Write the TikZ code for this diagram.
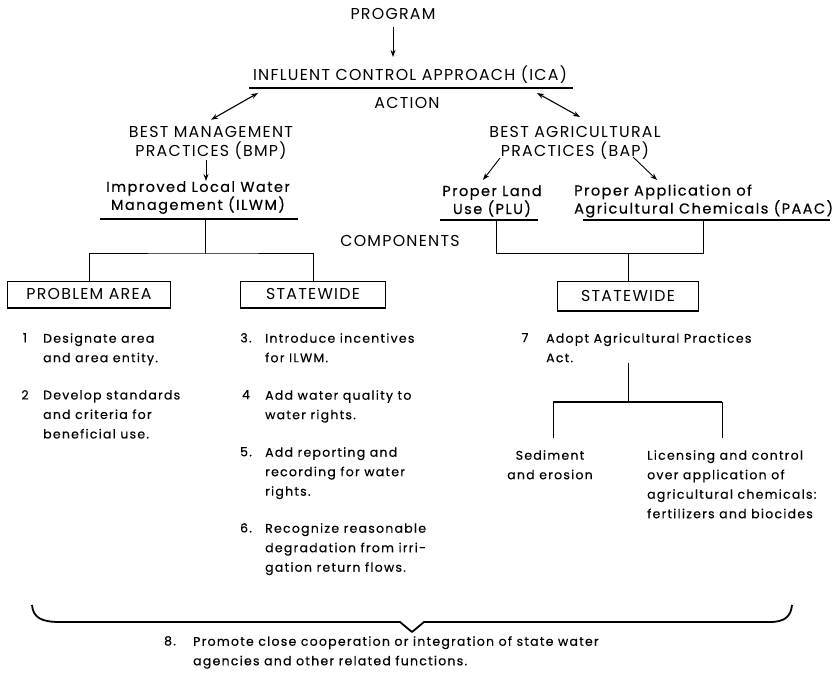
\documentclass[tikz,border=0pt]{standalone}
\usepackage{fontspec}
\setmainfont{Poppins}
\newfontfamily\capsf[LetterSpace=8]{Poppins}
\newfontfamily\bodyf[LetterSpace=10,FakeBold=0.4]{Poppins}
\usetikzlibrary{arrows.meta}
\begin{document}
\begin{tikzpicture}[x=1pt,y=-1pt,
  hdr/.style={inner sep=0pt, font=\capsf\fontsize{15.8}{19}\selectfont, align=center},
  midt/.style={inner sep=0pt, font=\bodyf\fontsize{14.5}{18}\selectfont, align=center},
  body/.style={inner sep=0pt, font=\bodyf\fontsize{12.5}{19.5}\selectfont, align=left, anchor=north west},
  num/.style={inner sep=0pt, font=\bodyf\fontsize{12.5}{19.5}\selectfont, anchor=north},
  uline/.style={line width=2.2pt},
  thin/.style={line width=0.9pt},
  arr/.style={-{Stealth[length=7pt,width=5pt]}, line width=0.9pt},
  darr/.style={{Stealth[length=7pt,width=5pt]}-{Stealth[length=7pt,width=5pt]}, line width=1.1pt},
  boxn/.style={draw, line width=1pt, inner sep=0pt, minimum height=26pt, font=\capsf\fontsize{15.8}{19}\selectfont},
  brace/.style={line width=1.8pt, line join=round}
]
\useasboundingbox (0,0) rectangle (837,673);

% top
\node[hdr] (prog) at (393,14) {PROGRAM};
\node[hdr] (ica) at (410,75) {INFLUENT CONTROL APPROACH (ICA)};
\draw[arr] ([yshift=-7pt]prog.south) -- ([yshift=9pt]prog.south |- ica.north);
\coordinate (icaL) at (249,88);
\coordinate (icaR) at (573,88);
\draw[uline] (icaL) -- (icaR);
\node[hdr] (act) at (407,103) {ACTION};

% left branch
\node[hdr] (bmp) at (211,142.5) {BEST MANAGEMENT\\PRACTICES (BMP)};
\coordinate (la) at (258,93);
\draw[darr] (la) -- ([yshift=6pt]bmp.north);
\node[midt] (ilwm) at (198,197.5) {Improved Local Water\\Management (ILWM)};
\coordinate (bmpB) at (206,160);
\draw[arr] (bmpB) -- (bmpB |- ilwm.north);
\coordinate (ilwmL) at (100,219);
\coordinate (ilwmR) at (298,219);
\draw[uline] (ilwmL) -- (ilwmR);
\coordinate (ilwmB) at (205,219);
\coordinate (jL) at (205,253);

% right branch
\node[hdr] (bap) at (575,142.5) {BEST AGRICULTURAL\\PRACTICES (BAP)};
\coordinate (ra) at (537,93);
\draw[darr] (ra) -- (580,117);
\node[midt] (plu) at (492,201) {Proper Land\\Use (PLU)};
\node[midt, align=left, anchor=west] (paac) at (574,201) {Proper Application of\\Agricultural Chemicals (PAAC)};
\coordinate (bapL) at (500,158);
\coordinate (bapR) at (633,157);
\draw[arr] (bapL) -- (483,180);
\draw[arr] (bapR) -- (657,180);
\coordinate (pluL) at (440,220);
\coordinate (pluR) at (538,220);
\draw[uline] (pluL) -- (pluR);
\coordinate (paacL) at (583,220);
\coordinate (paacR) at (830,220);
\draw[uline] (paacL) -- (paacR);
\coordinate (pluB) at (496,220);
\coordinate (paacB) at (703,220);
\coordinate (jR) at (628,253);

\node[hdr] (comp) at (400,241) {COMPONENTS};

% boxes
\node[boxn, minimum width=163pt] (pa) at (89,294) {PROBLEM AREA};
\node[boxn, minimum width=145pt] (swL) at (313,294) {STATEWIDE};
\node[boxn, minimum width=141pt, minimum height=29pt] (swR) at (628,296) {STATEWIDE};
\foreach \b in {pa,swL,swR}{\draw[line width=2pt] (\b.south west) -- (\b.south east);}

% trees
\draw[thin] (ilwmB) -- (jL);
\draw[thin] (pa.north) |- (jL) -| (swL.north);
\draw[thin] (pluB) |- (jR);
\draw[thin] (paacB) |- (jR);
\draw[thin] (jR) -- (swR.north);

% left items
\node[num] (n1) at (25,333) {1};
\node[body] (t1) at (43,333) {Designate area\\and area entity.};
\node[num] (n2) at (25,390) {2};
\node[body] (t2) at (43,390) {Develop standards\\and criteria for\\beneficial use.};

% middle items
\node[num] (n3) at (246,333) {3.};
\node[body] (t3) at (265,333) {Introduce incentives\\for ILWM.};
\node[num] (n4) at (246,390) {4};
\node[body] (t4) at (265,390) {Add water quality to\\water rights.};
\node[num] (n5) at (246,447) {5.};
\node[body] (t5) at (265,447) {Add reporting and\\recording for water\\rights.};
\node[num] (n6) at (246,523) {6.};
\node[body] (t6) at (265,523) {Recognize reasonable\\degradation from irri-\\gation return flows.};

% right items
\node[num] (n7) at (525,333) {7};
\node[body] (t7) at (546,333) {Adopt Agricultural Practices\\Act.};
\coordinate (t7b) at (628,363);
\coordinate (j7) at (628,402);
\coordinate (j7L) at (553,402);
\coordinate (j7R) at (722,402);
\draw[thin] (t7b) -- (j7);
\draw[uline] (j7L) -- (j7R);
\node[body, anchor=north, align=center] (sed) at (550,450) {Sediment\\and erosion};
\node[body] (lic) at (647,450) {Licensing and control\\over application of\\agricultural chemicals:\\fertilizers and biocides};
\draw[thin] (j7L) -- ([yshift=12pt]j7L |- sed.north);
\draw[thin] (j7R) -- ([yshift=12pt]j7R |- lic.north);

% brace
\coordinate (brL) at (32,605);
\coordinate (brR) at (792,605);
\coordinate (brT) at (412,632);
\draw[brace] (brL) .. controls (33,618) and (42,622) .. (60,622) -- (400,622) -- (brT) -- (424,622) -- (770,622) .. controls (785,622) and (791,616) .. (brR);
\node[num] (n8) at (170,636) {8.};
\node[body] (t8) at (193,636) {Promote close cooperation or integration of state water\\agencies and other related functions.};
\end{tikzpicture}
\end{document}
